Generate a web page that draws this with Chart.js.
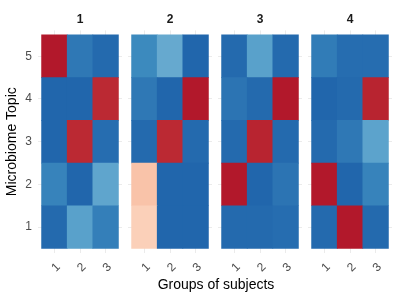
<!DOCTYPE html>
<html>
<head>
<meta charset="utf-8">
<script src="https://cdn.jsdelivr.net/npm/chart.js@4.4.0/dist/chart.umd.min.js"></script>
<style>
	body { margin: 0; background: #fff; }
	#wrap { position: relative; width: 400px; height: 300px; overflow: hidden; }
	canvas { position: absolute; top: 0; }
	#xtitle { position: absolute; left: 116px; width: 200px; top: 276px; text-align: center;
		font: 14px "Liberation Sans", Arial, sans-serif; color: #000; }
</style>
</head>
<body>
<div id="wrap">
	<canvas id="p1" width="123" height="300" style="left:0px"></canvas>
	<canvas id="p2" width="85" height="300" style="left:128px"></canvas>
	<canvas id="p3" width="85" height="300" style="left:218px"></canvas>
	<canvas id="p4" width="85" height="300" style="left:308px"></canvas>
	<div id="xtitle">Groups of subjects</div>
</div>
<script>
const panels = ["1", "2", "3", "4"];
const groups = ["1", "2", "3"];
const topics = [1, 2, 3, 4, 5];
// righe = topic 1..5 (dal basso), colonne = gruppo 1..3
const panel1 = [
	[0.01, 0.16, 0.07],
	[0.08, 0.00, 0.17],
	[0.00, 0.97, 0.02],
	[0.00, 0.00, 0.97],
	[1.00, 0.05, 0.01]
];
const panel2 = [
	[0.65, 0.00, 0.00],
	[0.68, 0.00, 0.00],
	[0.01, 0.97, 0.01],
	[0.05, 0.00, 1.00],
	[0.10, 0.18, 0.00]
];
const panel3 = [
	[0.01, 0.01, 0.02],
	[1.00, 0.00, 0.04],
	[0.01, 0.98, 0.01],
	[0.04, 0.01, 1.00],
	[0.01, 0.16, 0.01]
];
const panel4 = [
	[0.01, 1.00, 0.01],
	[1.00, 0.00, 0.08],
	[0.01, 0.05, 0.165],
	[0.00, 0.01, 0.98],
	[0.06, 0.02, 0.02]
];

const FONT = "'Liberation Sans', Arial, sans-serif";
const palette = ["#2166ac", "#4393c3", "#92c5de", "#d1e5f0", "#f7f7f7", "#fddbc7", "#f4a582", "#d6604d", "#b2182b"];

function hexRgb(h) {
	return [parseInt(h.substr(1, 2), 16), parseInt(h.substr(3, 2), 16), parseInt(h.substr(5, 2), 16)];
}
function colore(v) {
	let pos = Math.max(0, Math.min(1, v)) * (palette.length - 1);
	let i = Math.min(Math.floor(pos), palette.length - 2);
	let f = pos - i;
	let a = hexRgb(palette[i]), b = hexRgb(palette[i + 1]);
	let c = a.map((x, k) => Math.round(x + (b[k] - x) * f));
	return `rgb(${c[0]}, ${c[1]}, ${c[2]})`;
}

function makePanel(id, nome, valori, first) {
	let datasets = topics.map((t, r) => ({
		data: groups.map((g, c) => ({ x: c + 1, y: [t - 0.5, t + 0.5] })),
		backgroundColor: valori[r].map(colore),
		borderWidth: 0,
		grouped: false,
		barPercentage: 1,
		categoryPercentage: 1
	}));
	new Chart(document.getElementById(id), {
		type: "bar",
		data: { datasets: datasets },
		options: {
			responsive: false,
			animation: false,
			layout: { padding: { left: first ? 4 : 0, right: 0, top: 0, bottom: 0 } },
			plugins: {
				legend: { display: false },
				tooltip: { enabled: false },
				title: {
					display: true, text: nome, fullSize: false, color: "#1a1a1a",
					font: { family: FONT, size: 12, weight: "bold", lineHeight: 1.2 },
					padding: { top: 12, bottom: 4 }
				}
			},
			scales: {
				x: {
					type: "linear", min: 0.36, max: 3.64, offset: false,
					afterBuildTicks: ax => { ax.ticks = groups.map((g, i) => ({ value: i + 1 })); },
					afterFit: ax => { ax.height = 47; },
					grid: { color: "#ebebeb", drawTicks: false, offset: false },
					border: { display: false },
					ticks: {
						callback: v => groups[v - 1], color: "#4d4d4d", autoSkip: false,
						font: { family: FONT, size: 12 }, minRotation: 45, maxRotation: 45,
						padding: 7, labelOffset: 4
					}
				},
				y: {
					type: "linear", min: 0.395, max: 5.605,
					afterBuildTicks: ax => { ax.ticks = topics.map(t => ({ value: t })); },
					afterFit: ax => { ax.width = first ? 34 : 0; },
					grid: { color: "#ebebeb", drawTicks: false },
					border: { display: false },
					ticks: { display: first, color: "#4d4d4d", font: { family: FONT, size: 12 }, padding: 6 },
					title: {
						display: first, text: "Microbiome Topic", color: "#000",
						font: { family: FONT, size: 14 }, padding: 0
					}
				}
			}
		}
	});
}

makePanel("p1", panels[0], panel1, true);
makePanel("p2", panels[1], panel2, false);
makePanel("p3", panels[2], panel3, false);
makePanel("p4", panels[3], panel4, false);
</script>
</body>
</html>
